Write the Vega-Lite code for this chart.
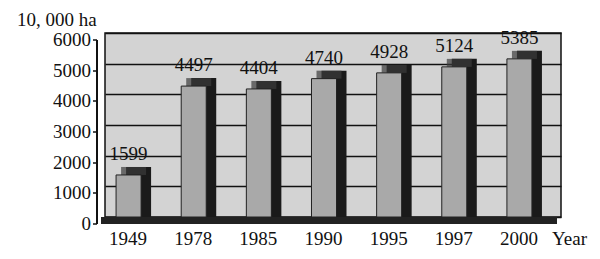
{
  "$schema": "https://vega.github.io/schema/vega-lite/v6.json",
  "width": 456,
  "height": 184,
  "autosize": "none",
  "padding": {"left": 105, "top": 33, "right": 39, "bottom": 42},
  "background": "white",
  "config": {
    "view": {"fill": "#d3d3d3", "stroke": "#111111", "strokeWidth": 1.5},
    "font": "Liberation Serif"
  },
  "data": {
    "values": [
      {"year": "1949", "area": 1599},
      {"year": "1978", "area": 4497},
      {"year": "1985", "area": 4404},
      {"year": "1990", "area": 4740},
      {"year": "1995", "area": 4928},
      {"year": "1997", "area": 5124},
      {"year": "2000", "area": 5385}
    ]
  },
  "encoding": {
    "x": {
      "field": "year",
      "type": "ordinal",
      "sort": null,
      "scale": {"type": "band", "paddingInner": 0.616, "paddingOuter": 0.308},
      "axis": {
        "title": "Year",
        "labelAngle": 0,
        "domain": true,
        "domainColor": "#222222",
        "domainWidth": 7,
        "domainCap": "butt",
        "ticks": false,
        "tickSize": 0,
        "grid": false,
        "labelFont": "Liberation Serif",
        "labelFontSize": 19,
        "labelColor": "#111111",
        "labelBaseline": "alphabetic",
        "labelPadding": 24.5,
        "labelOffset": -5,
        "translate": -4,
        "offset": 7.5,
        "titleX": 451,
        "titleY": 24.5,
        "titleAlign": "left",
        "titleBaseline": "alphabetic",
        "titleFont": "Liberation Serif",
        "titleFontSize": 19,
        "titleFontWeight": "normal",
        "titleColor": "#111111"
      }
    }
  },
  "layer": [
    {
      "mark": {"type": "bar", "color": "#1a1a1a", "xOffset": 1, "yOffset": -1, "y2Offset": -1},
      "encoding": {
        "y": {
          "field": "area",
          "type": "quantitative",
          "stack": null,
          "scale": {"domain": [0, 6000], "nice": false},
          "axis": {
            "orient": "left",
            "grid": true,
            "gridColor": "#111111",
            "gridWidth": 1.5,
            "domain": false,
            "ticks": false,
            "labels": false,
            "title": null,
            "offset": 1,
            "tickCount": 6
          }
        }
      }
    },
    {
      "mark": {"type": "tick", "color": "#3c3c3c", "size": 25, "thickness": 8, "xOffset": -4, "yOffset": 3},
      "encoding": {
        "y": {
          "field": "area",
          "type": "quantitative",
          "scale": {"domain": [0, 6000], "nice": false},
          "axis": null
        }
      }
    },
    {
      "mark": {"type": "bar", "color": "#a9a9a9", "stroke": "#222222", "strokeWidth": 1, "xOffset": -9, "yOffset": 7, "y2Offset": 7},
      "encoding": {
        "y": {
          "field": "area",
          "type": "quantitative",
          "stack": null,
          "scale": {"domain": [0, 6000], "nice": false},
          "axis": {
            "orient": "left",
            "grid": false,
            "domain": true,
            "domainColor": "#111111",
            "domainWidth": 2,
            "ticks": true,
            "tickSize": 4,
            "tickColor": "#111111",
            "tickWidth": 1.5,
            "labels": true,
            "format": "d",
            "labelFont": "Liberation Serif",
            "labelFontSize": 19,
            "labelColor": "#111111",
            "labelPadding": 2,
            "labelFlush": false,
            "translate": 7,
            "offset": 15,
            "tickCount": 6,
            "title": "10, 000 ha",
            "titleAngle": 0,
            "titleX": -80,
            "titleY": -14,
            "titleAlign": "left",
            "titleBaseline": "alphabetic",
            "titleFont": "Liberation Serif",
            "titleFontSize": 19,
            "titleFontWeight": "normal",
            "titleColor": "#111111"
          }
        }
      }
    },
    {
      "mark": {"type": "text", "font": "Liberation Serif", "fontSize": 19, "color": "#111111", "dx": -9, "dy": -14, "baseline": "middle", "align": "center"},
      "encoding": {
        "y": {
          "field": "area",
          "type": "quantitative",
          "scale": {"domain": [0, 6000], "nice": false},
          "axis": null
        },
        "text": {"field": "area", "type": "quantitative", "format": "d"}
      }
    }
  ],
  "resolve": {"axis": {"y": "independent"}}
}
